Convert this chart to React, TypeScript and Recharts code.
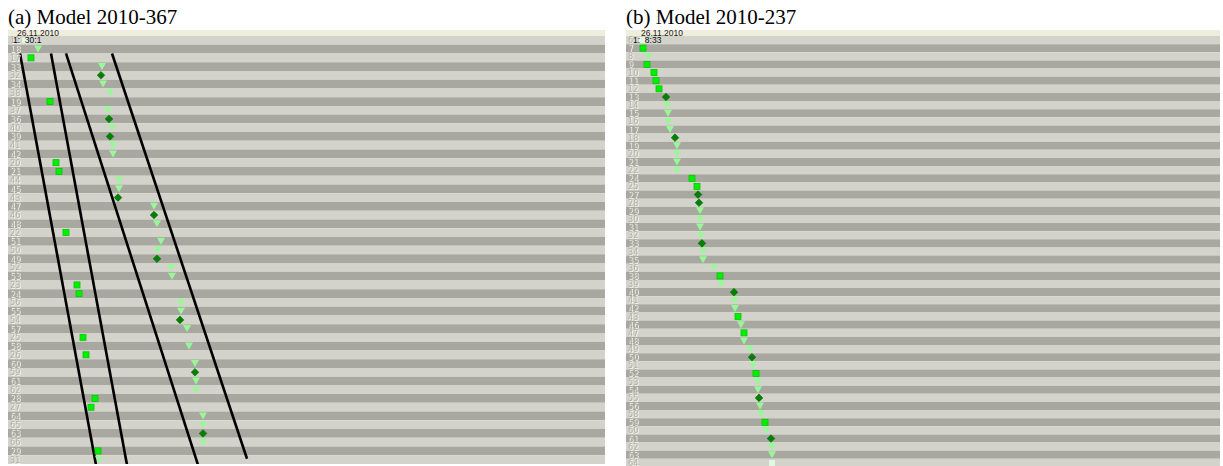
import React from "react";
import { ScatterChart, Scatter, XAxis, YAxis, ReferenceArea, ReferenceLine } from "recharts";

// (a) Model 2010-367: row labels top to bottom, marker position and marker kind per row
// kinds: s = square, d = diamond, t = triangle, p = pale square
const labelsA = ["11", "18", "17", "33", "32", "34", "38", "19", "37", "36", "40", "39", "41", "42", "20", "21", "44", "45", "43", "47", "46", "48", "22", "51", "50", "49", "52", "53", "23", "24", "56", "55", "54", "57", "25", "58", "26", "60", "59", "61", "62", "28", "27", "64", "65", "63", "66", "29", "31"];
const posA = [17, 30, 23, 94, 93, 95, 102, 42, 100, 101, 104, 102, 105, 105, 48, 51, 111, 111, 110, 146, 146, 149, 58, 153, 150, 149, 163, 164, 69, 71, 173, 173, 172, 179, 75, 181, 78, 187, 187, 188, 188, 87, 83, 195, 195, 195, 195, 90, 91];
const kindA = "ptstdttstdtdttssttdtdtsttdttssttdtststdttssttdtst".split("");
const linesA = [
  [12, 2, 88, 49.1],
  [43, 2, 119, 49.1],
  [58, 2, 190, 49.1],
  [104, 2, 239, 48.4],
];

// (b) Model 2010-237
const labelsB = ["6", "7", "8", "9", "10", "11", "12", "13", "14", "15", "16", "17", "18", "19", "20", "21", "22", "24", "25", "27", "28", "29", "30", "31", "32", "33", "34", "35", "36", "38", "39", "40", "41", "42", "43", "46", "47", "48", "49", "50", "51", "52", "53", "54", "55", "56", "58", "59", "60", "61", "62", "63", "64"];
const posB = [16, 17, 22, 21, 28, 30, 33, 40, 41, 42, 42, 44, 49, 51, 51, 51, 51, 66, 71, 72, 73, 74, 74, 74, 75, 76, 77, 77, 88, 94, 95, 108, 109, 109, 112, 115, 118, 118, 124, 126, 127, 130, 132, 132, 133, 134, 135, 139, 140, 145, 146, 146, 146];
const kindB = "pstssssdttttdttttssddttttdtttstdttststtdtsttdttstdttp".split("");

const LIGHT = "#d3d3cb";
const DARK = "#a8a8a0";

const Tri = (p: any) => (
  <polygon
    points={`${p.cx - 4},${p.cy - 3.5} ${p.cx + 4},${p.cy - 3.5} ${p.cx},${p.cy + 3.5}`}
    fill="#98f898"
  />
);
const Sq = (p: any) => (
  <rect x={p.cx - 3} y={p.cy - 3} width={6} height={6} fill="#00f000" stroke="#00c800" strokeWidth={0.8} />
);
const Pale = (p: any) => (
  <rect x={p.cx - 3} y={p.cy - 3} width={6} height={6} fill="#e2f8e2" />
);
const Dia = (p: any) => (
  <polygon
    points={`${p.cx},${p.cy - 3.8} ${p.cx + 3.8},${p.cy} ${p.cx},${p.cy + 3.8} ${p.cx - 3.8},${p.cy}`}
    fill="#008000"
    stroke="#006800"
    strokeWidth={0.6}
  />
);

const font = "'Liberation Sans Narrow', 'DejaVu Sans Condensed', 'Liberation Sans', sans-serif";

// greyed-out row number with a light drop shadow, like disabled text
function RowTick({ x, y, payload, labels }: any) {
  return (
    <text
      x={x}
      y={y}
      fill="#b2b2aa"
      fontSize={9}
      fontFamily={font}
      dominantBaseline="central"
      filter="url(#emboss)"
    >
      {labels[Math.floor(payload.value)]}
    </text>
  );
}

function Panel({ title, left, width, rowH, labels, pos, kind, date, time, lines }: any) {
  const n = labels.length;
  const height = Math.round(n * rowH);
  const rows = labels.map((_: string, i: number) => ({ x: pos[i], y: i + 0.5, k: kind[i] }));
  const of = (k: string) => rows.filter((r: any) => r.k === k);

  return (
    <div style={{ position: "absolute", left, top: 0, width, height: 466 }}>
      <div
        style={{
          position: "absolute",
          left: 0,
          top: 7,
          fontFamily: "'Liberation Serif', 'Times New Roman', serif",
          fontSize: 21,
          lineHeight: 1,
          whiteSpace: "nowrap",
        }}
      >
        {title}
      </div>
      <div style={{ position: "absolute", left: 0, top: 30, width, height: 6, background: "#efeddc" }} />
      <div style={{ position: "absolute", left: 0, top: 36 }}>
        <ScatterChart width={width} height={height} margin={{ top: 0, right: 0, bottom: 0, left: 0 }}>
          <defs>
            <filter id="emboss" x="-20%" y="-20%" width="140%" height="140%">
              <feDropShadow dx={1} dy={1} stdDeviation={0} floodColor="#f2f2ec" floodOpacity={1} />
            </filter>
          </defs>
          {labels.map((_: string, i: number) => (
            <ReferenceArea key={i} y1={i} y2={i + 1} fill={i % 2 ? DARK : LIGHT} fillOpacity={1} stroke="none" />
          ))}
          <XAxis type="number" dataKey="x" domain={[0, width]} hide />
          <YAxis
            type="number"
            dataKey="y"
            domain={[0, n]}
            reversed
            mirror
            ticks={labels.map((_: string, i: number) => i + 0.5)}
            interval={0}
            tickSize={0}
            tickMargin={2}
            axisLine={false}
            tickLine={false}
            tick={(p: any) => <RowTick {...p} labels={labels} />}
          />
          {lines.map((l: number[], i: number) => (
            <ReferenceLine
              key={i}
              segment={[{ x: l[0], y: l[1] }, { x: l[2], y: l[3] }]}
              stroke="#000"
              strokeWidth={2.6}
              ifOverflow="visible"
            />
          ))}
          <Scatter data={of("p")} shape={Pale} isAnimationActive={false} />
          <Scatter data={of("t")} shape={Tri} isAnimationActive={false} />
          <Scatter data={of("s")} shape={Sq} isAnimationActive={false} />
          <Scatter data={of("d")} shape={Dia} isAnimationActive={false} />
        </ScatterChart>
      </div>
      <div style={{ position: "absolute", left: date[0], top: 29, fontFamily: "'Liberation Sans', sans-serif", fontSize: 8.5, lineHeight: 1, color: "#222" }}>
        {date[1]}
      </div>
      <div style={{ position: "absolute", left: time[0], top: 36, fontFamily: "'Liberation Sans', sans-serif", fontSize: 8.5, lineHeight: 1, color: "#111", whiteSpace: "pre" }}>
        {time[1]}
      </div>
    </div>
  );
}

export default function App() {
  return (
    <div style={{ position: "fixed", left: 0, top: 0, width: 1223, height: 466, overflow: "hidden", background: "#fff" }}>
      <Panel
        title="(a) Model 2010-367"
        left={8}
        width={597}
        rowH={8.735}
        labels={labelsA}
        pos={posA}
        kind={kindA}
        date={[9, "26.11.2010"]}
        time={[5, "1:  30:1"]}
        lines={linesA}
      />
      <Panel
        title="(b) Model 2010-237"
        left={626}
        width={594}
        rowH={8.14}
        labels={labelsB}
        pos={posB}
        kind={kindB}
        date={[15, "26.11.2010"]}
        time={[7, "1:  8:33"]}
        lines={[]}
      />
    </div>
  );
}
